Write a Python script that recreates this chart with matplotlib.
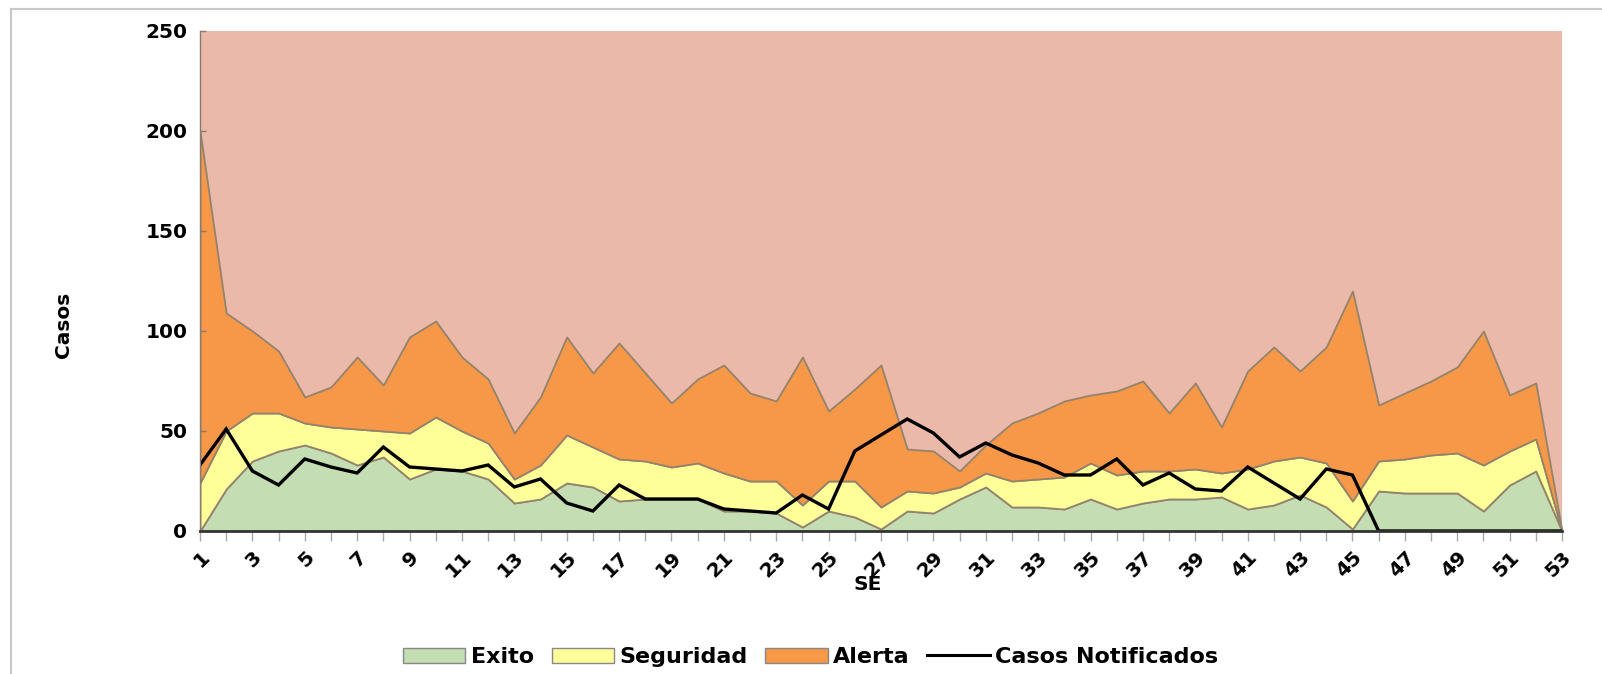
import matplotlib
matplotlib.use("Agg")
import matplotlib.pyplot as plt
from matplotlib.lines import Line2D
from matplotlib.patches import Patch

weeks = list(range(1, 54))
exito = [0, 21, 35, 40, 43, 39, 33, 37, 26, 31, 30, 26, 14, 16, 24, 22, 15, 16, 16, 16,
         10, 10, 9, 2, 10, 7, 1, 10, 9, 16, 22, 12, 12, 11, 16, 11, 14, 16, 16, 17,
         11, 13, 18, 12, 1, 20, 19, 19, 19, 10, 23, 30, 0]
seguridad = [24, 29, 24, 19, 11, 13, 18, 13, 23, 26, 20, 18, 12, 17, 24, 20, 21, 19, 16, 18,
             19, 15, 16, 11, 15, 18, 11, 10, 10, 6, 7, 13, 14, 16, 18, 17, 16, 14, 15, 12,
             20, 22, 19, 22, 14, 15, 17, 19, 20, 23, 17, 16, 0]
alerta = [176, 59, 41, 31, 13, 20, 36, 23, 48, 48, 37, 32, 23, 34, 49, 37, 58, 44, 32, 42,
          54, 44, 40, 74, 35, 46, 71, 21, 21, 8, 14, 29, 33, 38, 34, 42, 45, 29, 43, 23,
          49, 57, 43, 58, 105, 28, 33, 37, 43, 67, 28, 28, 0]
casos = [33, 51, 30, 23, 36, 32, 29, 42, 32, 31, 30, 33, 22, 26, 14, 10, 23, 16, 16, 16,
         11, 10, 9, 18, 11, 40, 48, 56, 49, 37, 44, 38, 34, 28, 28, 36, 23, 29, 21, 20,
         32, 24, 16, 31, 28, 0, 0, 0, 0, 0, 0, 0, 0]
series_names = ["Exito", "Seguridad", "Alerta", "Casos Notificados"]
yticks = [0, 50, 100, 150, 200, 250]
xlabels = [str(w) if w % 2 == 1 else "" for w in weeks]

c_pink = "#EAB9AA"
c_orange = "#F69848"
c_yellow = "#FFFF99"
c_green = "#C4DDB2"
c_edge = "#94836C"

W, H = 1602, 674
fig = plt.figure(figsize=(W / 100, H / 100), dpi=100)
fig.patch.set_facecolor("white")
ax = fig.add_axes([200 / W, 1 - 531 / H, 1362 / W, 500 / H])
ax.set_facecolor(c_pink)

ax.stackplot(weeks, exito, seguridad, alerta,
             colors=[c_green, c_yellow, c_orange],
             edgecolor=c_edge, linewidth=1.3)
ax.plot(weeks, casos, color="black", lw=2.4, solid_joinstyle="miter")

ax.set_xlim(1, 53)
ax.set_ylim(0, 250)
ax.set_xticks(weeks)
ax.set_xticklabels(xlabels, rotation=45, ha="right", va="top",
                   rotation_mode="anchor", fontsize=14.5, fontweight="bold")
ax.set_yticks(yticks)
ax.set_yticklabels([str(v) for v in yticks], fontsize=14.5, fontweight="bold")
ax.tick_params(axis="x", direction="out", length=7, width=1, color="#aaaaaa", pad=5)
ax.tick_params(axis="y", direction="in", length=4, width=1, color="#8c7a6a", pad=9)

for s in ["top", "right"]:
    ax.spines[s].set_visible(False)
ax.spines["bottom"].set_color("#333333")
ax.spines["bottom"].set_linewidth(2)
ax.spines["left"].set_color("#8c7a6a")
ax.spines["left"].set_linewidth(1)

fig.text(64 / W, 1 - 325 / H, "Casos", rotation=90, ha="center", va="center",
         fontsize=14.5, fontweight="bold")
fig.text(868 / W, 1 - 584 / H, "SE", ha="center", va="center",
         fontsize=14.5, fontweight="bold")

handles = [Patch(facecolor=c_green, edgecolor="#888888"),
           Patch(facecolor=c_yellow, edgecolor="#888888"),
           Patch(facecolor=c_orange, edgecolor="#888888"),
           Line2D([0], [0], color="black", lw=2.2)]
fig.legend(handles, series_names, loc="center", bbox_to_anchor=(0.506, 1 - 657 / H),
           ncol=4, frameon=False,
           prop={"family": "DejaVu Sans", "weight": "bold", "size": 16},
           handlelength=2.8, handleheight=0.65, columnspacing=0.8, handletextpad=0.25)

fig.add_artist(Line2D([11 / W, 1], [1 - 9 / H, 1 - 9 / H], transform=fig.transFigure,
                      color="#c8c8c8", lw=1.5))
fig.add_artist(Line2D([11 / W, 11 / W], [1 - 9 / H, 0], transform=fig.transFigure,
                      color="#c8c8c8", lw=1.5))

fig.savefig("out.png", dpi=100)
